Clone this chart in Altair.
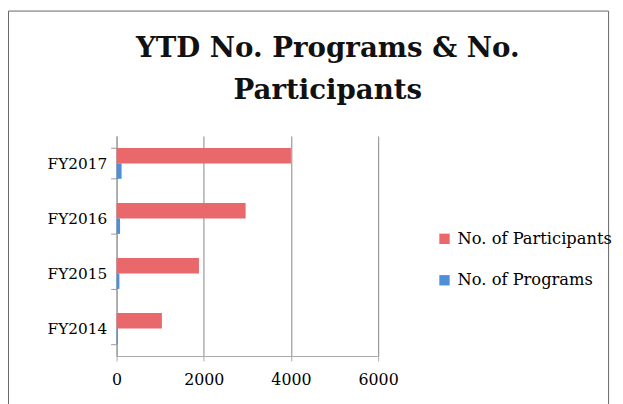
import altair as alt
import pandas as pd

years = ["FY2017", "FY2016", "FY2015", "FY2014"]
participants = [4000, 2960, 1890, 1040]
programs = [115, 80, 65, 30]
series = ["No. of Participants", "No. of Programs"]
colors = ["#E8686B", "#4F8FD8"]
x_ticks = [0, 2000, 4000, 6000]
title_lines = ["YTD No. Programs & No.", "Participants"]

rows = []
for y, p, g in zip(years, participants, programs):
    rows.append({"Year": y, "Series": series[0], "Value": p})
    rows.append({"Year": y, "Series": series[1], "Value": g})
df = pd.DataFrame(rows)

FONT = "DejaVu Serif"
W, H = 265, 223

bars = alt.Chart(df).mark_bar().encode(
    y=alt.Y("Year:N", sort=years, title=None,
            scale=alt.Scale(paddingInner=0.44, paddingOuter=0.22),
            axis=alt.Axis(tickBand="extent", labelFont=FONT, labelFontSize=15.5,
                          labelColor="#000", labelPadding=4, tickSize=6,
                          tickColor="#999", domainColor="#999", grid=False)),
    yOffset=alt.YOffset("Series:N", sort=series),
    x=alt.X("Value:Q", title=None,
            scale=alt.Scale(domain=[0, 6000], nice=False),
            axis=alt.Axis(values=x_ticks, format="d", labelFont=FONT,
                          labelFontSize=16, labelColor="#000", grid=True,
                          gridColor="#999", gridWidth=1.2, domain=True,
                          domainColor="#aaa", domainWidth=1.2, ticks=True,
                          tickColor="#aaa", tickSize=5, labelFlush=False,
                          labelPadding=11)),
    color=alt.Color("Series:N", sort=series,
                    scale=alt.Scale(domain=series, range=colors),
                    legend=alt.Legend(title=None, orient="none", legendX=324,
                                      legendY=96, symbolType="square",
                                      symbolSize=110, symbolStrokeWidth=0,
                                      labelFont=FONT, labelFontSize=16.5,
                                      labelColor="#000", rowPadding=25,
                                      labelOffset=5)),
)

title = alt.Chart(pd.DataFrame({"t": title_lines, "i": [0, 1]})).mark_text(
    font=FONT, fontSize=28, fontWeight="bold", color="#111",
    align="center", baseline="middle"
).encode(
    text="t:N",
    x=alt.value(214),
    y=alt.Y("i:O", axis=None,
            scale=alt.Scale(type="point", padding=0, range=[-88, -45])),
)

frame = alt.Chart(pd.DataFrame({"a": [0]})).mark_rect(
    fill=None, stroke="#666", strokeWidth=1
).encode(x=alt.value(-109.5), x2=alt.value(498.5), y=alt.value(-126.5),
         y2=alt.value(H + 60))

chart = alt.layer(frame, title, bars).resolve_scale(y="independent").properties(
    width=W, height=H,
    autosize=alt.AutoSizeParams(type="none"),
    padding={"left": 110, "top": 127, "right": 240, "bottom": 46},
).configure_view(stroke=None)

chart.save("out.html", embed_options={"renderer": "svg", "actions": False})
